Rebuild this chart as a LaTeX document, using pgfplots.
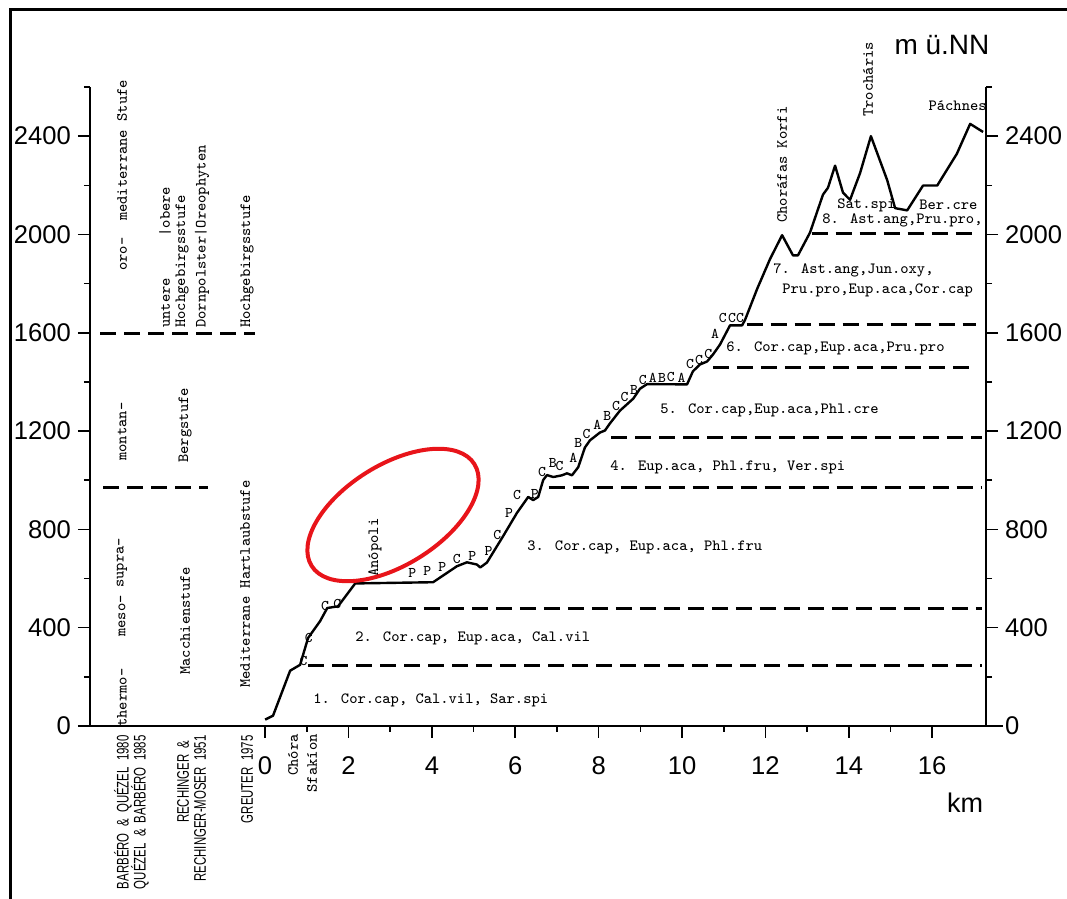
\documentclass[border=0pt]{standalone}
\usepackage{pgfplots}
\pgfplotsset{compat=1.18}
\usepackage{fontspec}
\setsansfont{Liberation Sans}
\usetikzlibrary{shapes.geometric}
\newfontfamily\condsans[FakeStretch=0.68]{Liberation Sans}
\definecolor{markred}{RGB}{232,20,26}
% typewriter text used for the vegetation belts and place names
\newcommand\tw{\ttfamily\fontsize{7.8}{9}\selectfont\addfontfeatures{FakeBold=0.6}}
\newcommand\twsp[1]{\ttfamily\fontsize{7.8}{9}\selectfont\addfontfeatures{LetterSpace=#1,FakeBold=0.6}}
\newcommand\refl{\condsans\fontsize{8.4}{9}\selectfont}

\begin{document}
\begin{tikzpicture}
% outer frame
\draw[line width=1.5pt] (5pt,-20pt) -- (5pt,444.5pt) -- (560pt,444.5pt);

\pgfplotsset{
  profilebase/.style={
    at={(45pt,86.5pt)}, anchor=south west, scale only axis,
    width=448pt, height=319.5pt,
    xmin=-4.2, xmax=17.29, ymin=0, ymax=2600,
    tick align=outside,
    major tick length=6pt, minor tick length=3pt,
    tick style={black, line width=0.8pt},
    axis line style={black, line width=1pt, -},
    ytick={0,400,...,2400},
    minor ytick={200,600,...,2600},
    ticklabel style={font=\sffamily\fontsize{12.8}{14}\selectfont},
    /pgf/number format/assume math mode=true,
    /pgf/number format/1000 sep={},
    clip=false,
  },
  zone/.style={black, line width=1.5pt, dash pattern=on 8pt off 4pt},
}

\begin{axis}[profilebase,
    axis x line*=bottom, axis y line*=left,
    x axis line style={shorten >=-8.5pt},
    xtick={0,2,...,16}, minor xtick={1,3,...,15},
    xticklabel style={yshift=-6pt},
  ]
  % belt boundaries along the transect
  \addplot[zone] coordinates {(1.03,245) (17.2,245)};
  \addplot[zone] coordinates {(2.08,480) (17.2,480)};
  \addplot[zone] coordinates {(6.8,972) (17.2,972)};
  \addplot[zone] coordinates {(8.3,1175) (17.2,1175)};
  \addplot[zone] coordinates {(10.74,1457) (17.0,1457)};
  \addplot[zone] coordinates {(11.55,1635) (17.05,1635)};
  \addplot[zone] coordinates {(13.11,2005) (17.05,2005)};
  % boundaries of the literature columns
  \addplot[zone] coordinates {(-3.96,1595) (-0.24,1595)};
  \addplot[zone] coordinates {(-3.88,970) (-1.37,970)};

  % elevation profile Chora Sfakion - Pachnes
  \addplot[black, line width=1.2pt, line join=round] coordinates {
    (0.00,26) (0.19,42) (0.60,225) (0.84,249) (1.03,358) (1.32,427)
    (1.49,480) (1.75,487) (2.16,580) (4.03,585) (4.60,650) (4.84,666)
    (5.08,657) (5.16,645) (5.32,665) (5.70,770) (6.04,867) (6.31,932)
    (6.43,919) (6.55,932) (6.67,1001) (6.76,1021) (6.91,1013) (7.12,1020)
    (7.24,1028) (7.36,1020) (7.51,1053) (7.67,1133) (7.79,1162) (8.03,1194)
    (8.15,1202) (8.27,1231) (8.51,1283) (8.83,1332) (8.99,1372) (9.16,1391)
    (10.12,1390) (10.26,1443) (10.43,1471) (10.60,1483) (10.74,1511)
    (10.91,1552) (11.15,1630) (11.44,1630) (11.51,1652) (11.80,1778)
    (12.11,1900) (12.40,1997) (12.66,1915) (12.78,1915) (13.07,2008)
    (13.38,2162) (13.50,2190) (13.67,2280) (13.86,2170) (14.03,2141)
    (14.27,2250) (14.53,2400) (14.92,2221) (15.11,2107) (15.40,2098)
    (15.78,2199) (16.12,2199) (16.59,2328) (16.91,2450) (17.22,2417)};

  % species symbols along the profile
  \addplot[draw=none, mark=none, nodes near coords, point meta=explicit symbolic,
    every node near coord/.append style={anchor=center, inner sep=0pt,
      font=\ttfamily\fontsize{7.4}{8}\selectfont\addfontfeatures{FakeBold=1.2}}]
    table[meta=l, row sep=\\] {
    x y l\\
    0.92 264 C\\ 1.05 358 C\\ 1.44 487 C\\ 1.73 496 C\\
    3.53 623 P\\ 3.89 632 P\\ 4.25 645 P\\ 4.60 678 C\\ 4.97 691 P\\
    5.36 711 P\\ 5.57 779 C\\ 5.85 866 P\\ 6.04 941 C\\ 6.47 944 P\\
    6.64 1035 C\\ 6.90 1071 B\\ 7.06 1057 C\\ 7.39 1092 A\\ 7.51 1151 B\\
    7.71 1189 C\\ 7.97 1227 A\\ 8.21 1263 B\\ 8.42 1303 C\\ 8.62 1339 C\\
    8.85 1366 B\\ 9.06 1407 C\\ 9.30 1417 A\\ 9.52 1417 B\\ 9.73 1419 C\\
    9.99 1416 A\\ 10.19 1472 C\\ 10.41 1490 C\\ 10.63 1513 C\\
    10.79 1596 A\\ 10.98 1661 C\\ 11.20 1661 C\\ 11.39 1661 C\\
  };
\end{axis}

\begin{axis}[profilebase,
    axis y line*=right, axis x line=none,
  ]
\end{axis}

% labels, positioned in page units (0.5pt steps from the top-left corner)
\begin{scope}[shift={(0pt,449.5pt)}, x=0.5pt, y=-0.5pt]
  % altitudinal belts after the literature
  \node[rotate=90, anchor=west, inner sep=0, font=\tw] at (122,727) {thermo-};
  \node[rotate=90, anchor=west, inner sep=0, font=\tw] at (122,637) {meso-};
  \node[rotate=90, anchor=west, inner sep=0, font=\tw] at (122,588) {supra-};
  \node[rotate=90, anchor=west, inner sep=0, font=\tw] at (122,461) {montan-};
  \node[rotate=90, anchor=west, inner sep=0, font=\tw] at (122,271) {oro-\ \ mediterrane Stufe};
  \node[rotate=90, anchor=west, inner sep=0, font=\tw] at (165,328) {untere\ \ \ \ \ |obere};
  \node[rotate=90, anchor=west, inner sep=0, font=\tw] at (182,328) {Hochgebirgsstufe};
  \node[rotate=90, anchor=west, inner sep=0, font=\tw] at (202,328) {Dornpolster|Oreophyten};
  \node[rotate=90, anchor=west, inner sep=0, font=\tw] at (247,328) {Hochgebirgsstufe};
  \node[rotate=90, anchor=west, inner sep=0, font=\twsp{12}] at (185,463) {Bergstufe};
  \node[rotate=90, anchor=west, inner sep=0, font=\twsp{12}] at (185,675) {Macchienstufe};
  \node[rotate=90, anchor=west, inner sep=0, font=\twsp{24}] at (245,688) {Mediterrane Hartlaubstufe};

  % sources
  \node[rotate=90, anchor=east, inner sep=0, font=\refl] at (123,735) {BARBÉRO\ \ \&\ \ QUÉZEL\ \ 1980};
  \node[rotate=90, anchor=east, inner sep=0, font=\refl] at (140,735) {QUÉZEL\ \ \&\ \ BARBÉRO\ \ 1985};
  \node[rotate=90, anchor=east, inner sep=0, font=\refl] at (183,740) {RECHINGER\ \ \&};
  \node[rotate=90, anchor=east, inner sep=0, font=\refl] at (200,735) {RECHINGER-MOSER\ \ 1951};
  \node[rotate=90, anchor=east, inner sep=0, font=\refl] at (247,735) {GREUTER\ \ 1975};

  % places
  \node[rotate=90, anchor=east, inner sep=0, font=\tw] at (293,734) {Chóra};
  \node[rotate=90, anchor=east, inner sep=0, font=\twsp{11}] at (312,734) {Sfakíon};
  \node[rotate=90, anchor=west, inner sep=0, font=\twsp{11}] at (375,577) {Anópoli};
  \node[rotate=90, anchor=west, inner sep=0, font=\tw] at (782,223) {Choráfas Korfi};
  \node[rotate=90, anchor=west, inner sep=0, font=\twsp{10}] at (868,117) {Trocháris};
  \node[anchor=east, inner sep=0, font=\twsp{18}] at (987,106) {Páchnes};

  % vegetation belts
  \node[anchor=west, inner sep=0, font=\tw] at (313,700) {1. Cor.cap, Cal.vil, Sar.spi};
  \node[anchor=west, inner sep=0, font=\tw] at (355,638) {2. Cor.cap, Eup.aca, Cal.vil};
  \node[anchor=west, inner sep=0, font=\tw] at (527,547) {3. Cor.cap, Eup.aca, Phl.fru};
  \node[anchor=west, inner sep=0, font=\tw] at (610,467) {4. Eup.aca, Phl.fru, Ver.spi};
  \node[anchor=west, inner sep=0, font=\tw] at (660,410) {5. Cor.cap,Eup.aca,Phl.cre};
  \node[anchor=west, inner sep=0, font=\tw] at (726,348) {6. Cor.cap,Eup.aca,Pru.pro};
  \node[anchor=west, inner sep=0, font=\tw] at (773,270) {7. Ast.ang,Jun.oxy,};
  \node[anchor=west, inner sep=0, font=\tw] at (782,290) {Pru.pro,Eup.aca,Cor.cap};
  \node[anchor=west, inner sep=0, font=\tw] at (822,220) {8. Ast.ang,Pru.pro,};
  \node[anchor=west, inner sep=0, font=\tw] at (837,205) {Sat.spi};
  \node[anchor=west, inner sep=0, font=\tw] at (919,205) {Ber.cre};

  % axis units
  \node[font=\sffamily\fontsize{14}{16}\selectfont] at (942,45) {m ü.NN};
  \node[font=\sffamily\fontsize{13.5}{16}\selectfont] at (965,803) {km};

  % highlight around Anopoli
  \node[draw=markred, ellipse, line width=2pt, inner sep=0,
        minimum width=96pt, minimum height=50pt, rotate=32] at (393,515) {};
\end{scope}

\pgfresetboundingbox
\path[use as bounding box] (0,0) rectangle (533.5pt,449.5pt);
\end{tikzpicture}
\end{document}
